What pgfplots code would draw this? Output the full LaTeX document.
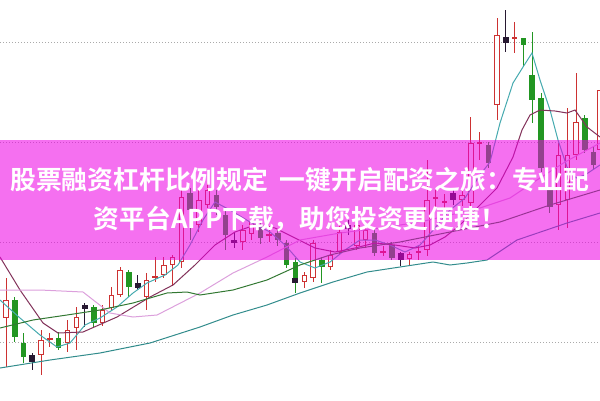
\documentclass[border=0pt]{standalone}
\usepackage{fontspec}
\usepackage{pgfplots}
\pgfplotsset{compat=1.18}
\usepackage{pgfplotstable}
\newfontfamily\cjk{Noto Sans CJK SC Bold}

\definecolor{upred}{RGB}{205,50,50}
\definecolor{downgreen}{RGB}{34,150,34}
\definecolor{dojidark}{RGB}{40,25,50}
\definecolor{maA}{RGB}{70,170,175}
\definecolor{maB}{RGB}{130,50,90}
\definecolor{maC}{RGB}{220,160,220}
\definecolor{maD}{RGB}{50,120,50}
\definecolor{maE}{RGB}{50,140,140}
\definecolor{gridgray}{RGB}{170,170,170}
\definecolor{band}{RGB}{237,0,228}

% candles in picture units (y grows downwards): wick top, body top, body bottom, wick bottom
\pgfplotstableread{
x wt bt bb wb
6.0 278 300 318 367
41.1 330 340 355 375
49.9 333 338 340 347
67.4 320 330 343 352
76.2 307 317 328 350
102.5 305 310 323 326
111.2 287 295 308 310
120.0 267 270 295 297
146.3 273 280 297 310
155.1 257 276 278 282
163.9 257 265 275 278
172.6 255 257 265 286
181.4 190 197 262 268
198.9 190 200 225 232
207.7 183 190 205 208
242.8 225 230 242 250
251.6 216 222 234 240
269.1 226 234 236 242
304.2 272 275 282 288
313.0 240 243 278 282
330.5 250 255 267 270
339.3 222 232 252 255
356.8 220 225 246 250
365.6 225 230 240 248
383.1 246 251 253 256
409.4 252 254 259 266
418.2 246 251 253 260
427.0 160 200 250 256
435.7 190 197 199 207
444.5 194 201 203 212
462.0 190 195 200 206
470.8 117 143 203 207
479.6 132 142 144 160
497.1 18 35 105 120
514.7 22 37 39 53
558.5 143 155 205 230
567.3 108 155 200 228
576.0 73 122 155 160
600.0 80 90 150 200
}\upcandles

\pgfplotstableread{
x wt bt bb wb
-2.8 295 300 313 318
14.8 297 300 337 342
23.5 333 343 357 363
58.6 332 338 348 350
93.7 305 307 323 327
128.8 270 272 287 297
190.2 188 193 210 240
216.5 190 195 207 215
225.3 210 215 235 250
260.3 222 226 238 244
277.9 230 233 240 246
286.6 240 243 265 268
295.4 258 262 278 293
321.7 257 260 267 283
374.3 228 233 253 256
391.9 242 245 258 260
488.4 142 145 163 168
523.4 38 38 45 67
532.2 32 75 100 123
541.0 93 98 168 172
549.7 187 190 207 213
584.8 115 118 150 153
593.6 147 152 165 170
}\downcandles

\pgfplotstableread{
x wt bt bb wb
32.3 353 355 362 370
84.9 303 305 309 327
137.6 275 283 288 290
234.0 232 240 243 248
295.4 278 278 283 283
348.0 220 225 229 235
400.7 252 253 260 266
453.3 190 193 200 205
505.9 10 37 43 52
}\dojicandles

\pgfplotsset{
  stick/.style 2 args={draw=none, mark=none, forget plot,
    error bars/.cd, y dir=both, y explicit, error mark=none,
    error bar style={solid, line width=#2, draw=#1}},
}

\begin{document}
\begin{tikzpicture}
\begin{axis}[
    name=ax,
    width=600pt, height=400pt, scale only axis,
    xmin=0, xmax=600, ymin=0, ymax=400,
    y dir=reverse,
    axis line style={draw=none},
    xtick=\empty,
    ytick={42,142,242,342}, yticklabels={},
    ytick style={draw=none},
    ymajorgrids,
    major grid style={gridgray, line width=1pt, dash pattern=on 1pt off 2pt},
    no marks,
    ]

% wicks
\addplot[stick={upred}{1pt}] table[x=x, y expr={(\thisrow{wt}+\thisrow{wb})/2}, y error expr={(\thisrow{wb}-\thisrow{wt})/2}] {\upcandles};
\addplot[stick={downgreen}{1pt}] table[x=x, y expr={(\thisrow{wt}+\thisrow{wb})/2}, y error expr={(\thisrow{wb}-\thisrow{wt})/2}] {\downcandles};
\addplot[stick={dojidark}{1pt}] table[x=x, y expr={(\thisrow{wt}+\thisrow{wb})/2}, y error expr={(\thisrow{wb}-\thisrow{wt})/2}] {\dojicandles};

% bodies
\addplot[stick={upred}{5.4pt}] table[x=x, y expr={(\thisrow{bt}+\thisrow{bb})/2}, y error expr={max((\thisrow{bb}-\thisrow{bt})/2,0.7)}] {\upcandles};
\addplot[stick={white}{3.4pt}] table[x=x, y expr={(\thisrow{bt}+\thisrow{bb})/2}, y error expr={max((\thisrow{bb}-\thisrow{bt})/2-1,0)}] {\upcandles};
\addplot[stick={downgreen}{5.6pt}] table[x=x, y expr={(\thisrow{bt}+\thisrow{bb})/2}, y error expr={max((\thisrow{bb}-\thisrow{bt})/2,0.7)}] {\downcandles};
\addplot[stick={dojidark}{6pt}] table[x=x, y expr={(\thisrow{bt}+\thisrow{bb})/2}, y error expr={(\thisrow{bb}-\thisrow{bt})/2}] {\dojicandles};

% moving averages
\addplot[maA, line width=1pt] coordinates {
(0,300) (20,318) (40,335) (57,347) (70,343) (85,325) (100,318) (117,307)
(133,293) (147,283) (165,275) (178,265) (190,245) (203,220) (215,202)
(230,210) (250,222) (270,232) (285,245) (300,262) (315,268) (330,262)
(345,250) (360,240) (375,240) (390,245) (405,252) (420,245) (435,228)
(450,210) (465,198) (480,175) (490,162) (500,123) (513,83) (523,67)
(532,53) (540,80) (550,110) (558,140) (567,167) (576,178) (585,175) (600,165)
};
\addplot[maB, line width=1pt] coordinates {
(0,257) (20,290) (43,323) (58,333) (83,332) (117,317) (150,297) (173,285)
(195,265) (215,245) (235,232) (255,225) (275,228) (295,238) (315,248)
(335,252) (355,248) (375,243) (395,245) (415,248) (430,245) (445,237)
(460,225) (480,205) (497,188) (513,157) (522,130) (530,115) (540,110)
(555,111) (567,113) (575,110) (587,127) (600,137)
};
\addplot[maC, line width=1pt] coordinates {
(0,290) (40,290) (83,292) (110,313) (133,317) (157,315) (200,293) (233,273)
(267,257) (300,240) (340,233) (380,228) (420,222) (450,215) (480,208)
(510,198) (540,178) (565,162) (600,143)
};
\addplot[maD, line width=1pt] coordinates {
(0,328) (33,320) (67,315) (100,310) (133,303) (167,293) (187,292) (200,295)
(233,290) (267,280) (300,265) (330,255) (360,248) (400,242) (450,232)
(500,222) (550,205) (600,190)
};
\addplot[maE, line width=1pt] coordinates {
(0,368) (50,360) (100,353) (150,343) (200,327) (233,315) (267,305) (300,293)
(333,282) (367,272) (400,267) (433,262) (450,265) (467,263) (487,260)
(517,240) (567,223) (600,213)
};

% banner
\addplot[draw=none, fill=band, fill opacity=0.56] coordinates {(-5,140) (605,140) (605,260) (-5,260)};
\node[text=white, align=center, font={\cjk\fontsize{25.8}{39}\selectfont}]
  at (axis cs:300,200) {股票融资杠杆比例规定\hspace{0.45em}一键开启配资之旅：专业配\\资平台APP下载，助您投资更便捷！};
\end{axis}
\pgfresetboundingbox
\useasboundingbox (ax.south west) rectangle (ax.north east);
\end{tikzpicture}
\end{document}
